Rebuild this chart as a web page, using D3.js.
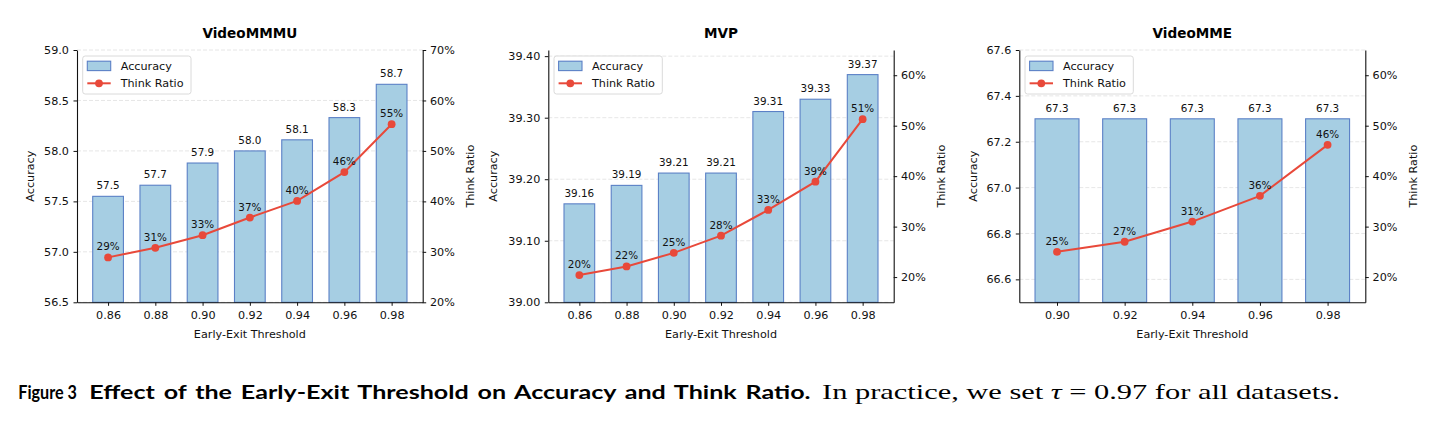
<!DOCTYPE html>
<html>
<head>
<meta charset="utf-8">
<script src="https://cdn.jsdelivr.net/npm/d3@7"></script>
<style>
  html, body { margin: 0; padding: 0; background: #fff; }
  svg { display: block; }
</style>
</head>
<body>
<svg id="chart" width="1441" height="423"></svg>
<script>
// ---------------- DATA ----------------
const thresholds7 = ["0.86", "0.88", "0.90", "0.92", "0.94", "0.96", "0.98"];
const thresholds5 = ["0.90", "0.92", "0.94", "0.96", "0.98"];

const videommmuAcc = [57.55, 57.66, 57.88, 58.00, 58.11, 58.33, 58.66];
const videommmuAccLabels = ["57.5", "57.7", "57.9", "58.0", "58.1", "58.3", "58.7"];
const videommmuThink = [28.9, 30.8, 33.3, 36.8, 40.1, 45.8, 55.3];
const videommmuThinkLabels = ["29%", "31%", "33%", "37%", "40%", "46%", "55%"];
const videommmuAccTicks = [56.5, 57.0, 57.5, 58.0, 58.5, 59.0];
const videommmuRatioTicks = [20, 30, 40, 50, 60, 70];

const mvpAcc = [39.16, 39.19, 39.21, 39.21, 39.31, 39.33, 39.37];
const mvpAccLabels = ["39.16", "39.19", "39.21", "39.21", "39.31", "39.33", "39.37"];
const mvpThink = [20.4, 22.1, 24.8, 28.2, 33.3, 38.9, 51.3];
const mvpThinkLabels = ["20%", "22%", "25%", "28%", "33%", "39%", "51%"];
const mvpAccTicks = [39.00, 39.10, 39.20, 39.30, 39.40];
const mvpRatioTicks = [20, 30, 40, 50, 60];

const videommeAcc = [67.3, 67.3, 67.3, 67.3, 67.3];
const videommeAccLabels = ["67.3", "67.3", "67.3", "67.3", "67.3"];
const videommeThink = [25.0, 27.0, 31.0, 36.1, 46.2];
const videommeThinkLabels = ["25%", "27%", "31%", "36%", "46%"];
const videommeAccTicks = [66.6, 66.8, 67.0, 67.2, 67.4, 67.6];
const videommeRatioTicks = [20, 30, 40, 50, 60];

const titles = ["VideoMMMU", "MVP", "VideoMME"];
const legendLabels = ["Accuracy", "Think Ratio"];
const xAxisLabel = "Early-Exit Threshold";
const leftAxisLabel = "Accuracy";
const rightAxisLabel = "Think Ratio";

// ---------------- STYLE / LAYOUT ----------------
const barFill = "#a6cee3";
const barStroke = "#5b80c6";
const lineColor = "#e8493a";
const font = "DejaVu Sans, sans-serif";
const barWidth = 0.65;

const panels = [
  { title: titles[0], cats: thresholds7, acc: videommmuAcc, accLabels: videommmuAccLabels,
    think: videommmuThink, thinkLabels: videommmuThinkLabels,
    yDomain: [56.5, 59.0], yTicks: videommmuAccTicks, yFmt: d3.format(".1f"),
    rDomain: [20, 70], rTicks: videommmuRatioTicks,
    left: 77, right: 422.7, yLabelOff: -43 },
  { title: titles[1], cats: thresholds7, acc: mvpAcc, accLabels: mvpAccLabels,
    think: mvpThink, thinkLabels: mvpThinkLabels,
    yDomain: [39.0, 39.41], yTicks: mvpAccTicks, yFmt: d3.format(".2f"),
    rDomain: [15, 65], rTicks: mvpRatioTicks,
    left: 548.3, right: 893.7, yLabelOff: -51.3 },
  { title: titles[2], cats: thresholds5, acc: videommeAcc, accLabels: videommeAccLabels,
    think: videommeThink, thinkLabels: videommeThinkLabels,
    yDomain: [66.5, 67.6], yTicks: videommeAccTicks, yFmt: d3.format(".1f"),
    rDomain: [15, 65], rTicks: videommeRatioTicks,
    left: 1019.3, right: 1365.3, yLabelOff: -42.3 }
];

const plotTop = 50, plotBottom = 302.3;
const svg = d3.select("#chart");
svg.append("rect").attr("width", 1441).attr("height", 423).attr("fill", "#fff");

panels.forEach(p => {
  const n = p.cats.length;
  const margin = 0.05 * (n - 1 + barWidth);
  const x = d3.scaleLinear()
    .domain([-barWidth / 2 - margin, n - 1 + barWidth / 2 + margin])
    .range([p.left, p.right]);
  const y = d3.scaleLinear().domain(p.yDomain).range([plotBottom, plotTop]);
  const yr = d3.scaleLinear().domain(p.rDomain).range([plotBottom, plotTop]);
  const g = svg.append("g");
  const idx = d3.range(n);

  // grid
  g.append("g").selectAll("line").data(p.yTicks).join("line")
    .attr("x1", p.left).attr("x2", p.right)
    .attr("y1", d => y(d)).attr("y2", d => y(d))
    .attr("stroke", "#e0e0e0").attr("stroke-width", 0.8)
    .attr("stroke-dasharray", "4,2");

  // bars
  g.append("g").selectAll("rect").data(idx).join("rect")
    .attr("x", i => x(i - barWidth / 2))
    .attr("width", i => x(i + barWidth / 2) - x(i - barWidth / 2))
    .attr("y", i => y(p.acc[i]))
    .attr("height", i => y(p.yDomain[0]) - y(p.acc[i]))
    .attr("fill", barFill)
    .attr("stroke", barStroke).attr("stroke-width", 1.1);

  // bar labels
  g.append("g").selectAll("text").data(idx).join("text")
    .attr("x", i => x(i)).attr("y", i => y(p.acc[i]) - 7)
    .attr("text-anchor", "middle")
    .attr("font-family", font).attr("font-size", 10.4).attr("fill", "#111")
    .text(i => p.accLabels[i]);

  // think ratio line
  const line = d3.line().x(i => x(i)).y(i => yr(p.think[i]));
  g.append("path").datum(idx).attr("d", line)
    .attr("fill", "none").attr("stroke", lineColor).attr("stroke-width", 2);
  g.append("g").selectAll("circle").data(idx).join("circle")
    .attr("cx", i => x(i)).attr("cy", i => yr(p.think[i])).attr("r", 3.9)
    .attr("fill", lineColor);
  g.append("g").selectAll("text").data(idx).join("text")
    .attr("x", i => x(i)).attr("y", i => yr(p.think[i]) - 7)
    .attr("text-anchor", "middle")
    .attr("font-family", font).attr("font-size", 10.4).attr("fill", "#111")
    .text(i => p.thinkLabels[i]);

  // axes
  const styleAxis = sel => {
    sel.selectAll("text").attr("font-family", font).attr("font-size", 11.2).attr("fill", "#111");
    sel.selectAll("line").attr("stroke", "#111").attr("stroke-width", 1);
    sel.select(".domain").attr("stroke", "#111").attr("stroke-width", 1.1);
  };
  g.append("g").attr("transform", `translate(${p.left},0)`)
    .call(d3.axisLeft(y).tickValues(p.yTicks).tickFormat(p.yFmt).tickSize(3.5).tickPadding(4.5).tickSizeOuter(0))
    .call(styleAxis);
  g.append("g").attr("transform", `translate(${p.right},0)`)
    .call(d3.axisRight(yr).tickValues(p.rTicks).tickFormat(d => d + "%").tickSize(3.5).tickPadding(3.8).tickSizeOuter(0))
    .call(styleAxis);
  g.append("g").attr("transform", `translate(0,${plotBottom})`)
    .call(d3.axisBottom(x).tickValues(idx).tickFormat(i => p.cats[i]).tickSize(3.5).tickPadding(5).tickSizeOuter(0))
    .call(styleAxis);

  // titles and labels
  const cx = (p.left + p.right) / 2, cy = (plotTop + plotBottom) / 2;
  g.append("text").attr("x", cx).attr("y", 38).attr("text-anchor", "middle")
    .attr("font-family", font).attr("font-weight", "bold").attr("font-size", 13.6).attr("fill", "#000")
    .text(p.title);
  g.append("text").attr("x", cx).attr("y", 338).attr("text-anchor", "middle")
    .attr("font-family", font).attr("font-size", 11.2).attr("fill", "#111")
    .text(xAxisLabel);
  g.append("text").attr("transform", `translate(${p.left + p.yLabelOff},${cy}) rotate(-90)`)
    .attr("text-anchor", "middle")
    .attr("font-family", font).attr("font-size", 11.2).attr("fill", "#111")
    .text(leftAxisLabel);
  g.append("text").attr("transform", `translate(${p.right + 51.2},${cy}) rotate(-90)`)
    .attr("text-anchor", "middle")
    .attr("font-family", font).attr("font-size", 11.2).attr("fill", "#111")
    .text(rightAxisLabel);

  // legend
  const lx = p.left + 5.7, ly = 56;
  const lg = g.append("g");
  lg.append("rect").attr("x", lx).attr("y", ly).attr("width", 108.3).attr("height", 38)
    .attr("rx", 2.5).attr("fill", "#fff").attr("fill-opacity", 0.85)
    .attr("stroke", "#d6d6d6").attr("stroke-width", 0.9);
  lg.append("rect").attr("x", p.left + 10.3).attr("y", 61.2).attr("width", 23.4).attr("height", 9.4)
    .attr("fill", barFill).attr("stroke", barStroke).attr("stroke-width", 1.1);
  lg.append("line").attr("x1", p.left + 10.3).attr("x2", p.left + 33.7)
    .attr("y1", 83.3).attr("y2", 83.3).attr("stroke", lineColor).attr("stroke-width", 2);
  lg.append("circle").attr("cx", p.left + 22).attr("cy", 83.3).attr("r", 3.9).attr("fill", lineColor);
  lg.selectAll("text.leg").data(legendLabels).join("text")
    .attr("x", p.left + 43.7).attr("y", (d, i) => i === 0 ? 70 : 87)
    .attr("font-family", font).attr("font-size", 11.2).attr("fill", "#111")
    .text(d => d);
});

// ---------------- CAPTION ----------------
function fitText(sel, x, y, target, spaces, maxSpace, minScale) {
  let w = sel.node().getComputedTextLength();
  if (spaces) {
    const extra = Math.max(0, Math.min(maxSpace, (target - w) / spaces));
    sel.attr("word-spacing", extra);
    w = sel.node().getComputedTextLength();
  }
  const s = Math.max(minScale || 0, target / w);
  sel.attr("transform", `translate(${x},${y}) scale(${s},1)`);
}
const capFont = "Lato, 'Open Sans', sans-serif";
const cap1 = svg.append("text").attr("font-family", capFont).attr("font-weight", 700)
  .attr("font-size", 18).attr("fill", "#000").text("Figure 3");
fitText(cap1, 18.3, 399, 57.7, 0, 0, 0.9);
const cap2 = svg.append("text").attr("font-family", capFont).attr("font-weight", 700)
  .attr("font-size", 18).attr("fill", "#000").text("Effect of the Early-Exit Threshold on Accuracy and Think Ratio.");
fitText(cap2, 89.3, 399, 721.7, 10, 2, 0);
const cap3 = svg.append("text").attr("font-family", "Liberation Serif, serif")
  .attr("font-size", 21).attr("fill", "#000");
cap3.append("tspan").text("In practice, we set ");
cap3.append("tspan").attr("font-style", "italic").text("τ");
cap3.append("tspan").text(" = 0.97 for all datasets.");
fitText(cap3, 822, 399, 518, 0, 0, 0);
</script>
</body>
</html>
